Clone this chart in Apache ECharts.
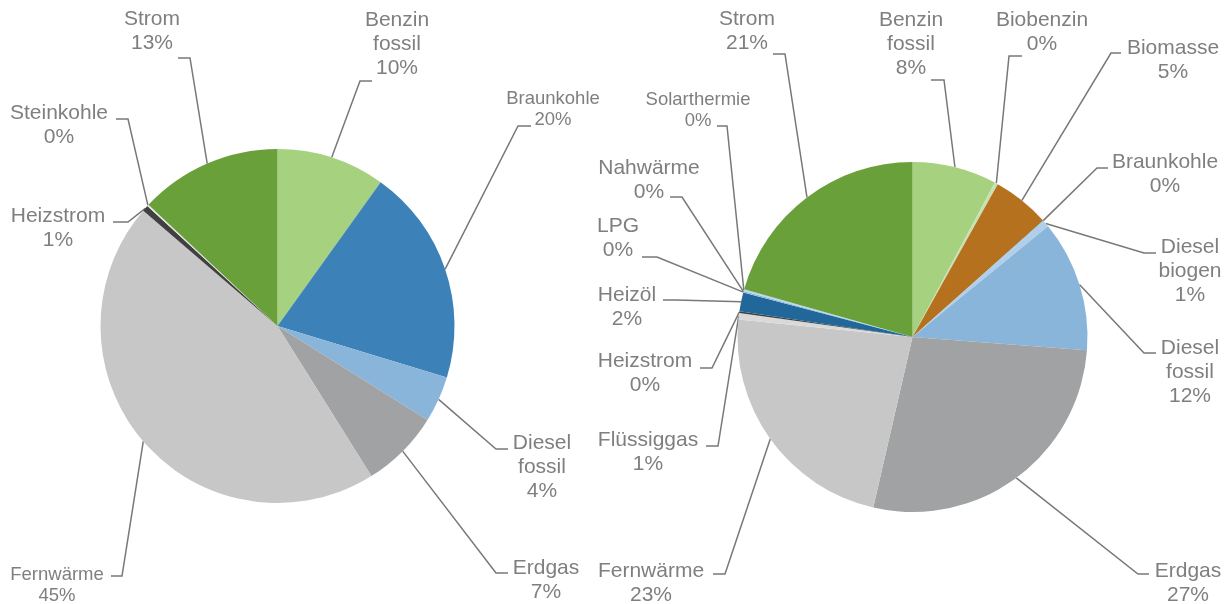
<!DOCTYPE html>
<html>
<head>
<meta charset="utf-8">
<script src="https://cdn.jsdelivr.net/npm/echarts@6/dist/echarts.min.js"></script>
<style>
  html, body { margin: 0; padding: 0; background: #fff; }
  #chart { width: 1231px; height: 604px; }
</style>
</head>
<body>
<div id="chart"></div>
<script>
// Anteile links
const leftNames = ['Benzin fossil', 'Braunkohle', 'Diesel fossil', 'Erdgas', 'Fernwärme', 'Heizstrom', 'Steinkohle', 'Strom'];
const leftValues = [9.9, 19.8, 4.2, 7.2, 45.2, 0.55, 0.15, 13.0];

// Anteile rechts
const rightNames = ['Benzin fossil', 'Biobenzin', 'Biomasse', 'Braunkohle', 'Diesel biogen', 'Diesel fossil', 'Erdgas',
  'Fernwärme', 'Flüssiggas', 'Heizstrom', 'Heizöl', 'LPG', 'Nahwärme', 'Solarthermie', 'Strom'];
const rightValues = [7.8, 0.3, 5.3, 0.05, 0.65, 12.1, 27.4, 23.0, 0.6, 0.15, 1.75, 0.05, 0.05, 0.2, 20.6];

// Farben je Energieträger
const colors = {
  'Benzin fossil': '#a6d17f', 'Biobenzin': '#c6e1b2', 'Biomasse': '#b5711e', 'Braunkohle': '#3c82b8',
  'Diesel biogen': '#b2cfe9', 'Diesel fossil': '#88b5d9', 'Erdgas': '#a1a2a4', 'Fernwärme': '#c6c7c6',
  'Flüssiggas': '#d9d9d9', 'Heizstrom': '#404040', 'Heizöl': '#22679a', 'LPG': '#9dc3e6',
  'Nahwärme': '#5b9bd5', 'Solarthermie': '#bdd7ee', 'Steinkohle': '#e4e4e4', 'Strom': '#69a03a'
};

// Beschriftungen: [x, y, Knick x, Knick y, Ende x]
const leftSpots = {
  'Benzin fossil': [397, 44, 360, 81, 372],
  'Braunkohle': [553, 109, 518, 126, 531],
  'Diesel fossil': [542, 467, 496, 449, 508],
  'Erdgas': [546, 580, 496, 573, 508],
  'Fernwärme': [57, 585, 122, 576, 111],
  'Heizstrom': [58, 228, 128, 222, 113],
  'Steinkohle': [59, 125, 128, 119, 116],
  'Strom': [152, 31, 190, 58, 178]
};
const rightSpots = {
  'Strom': [747, 31, 785, 54, 773],
  'Benzin fossil': [911, 44, 944, 80, 931],
  'Biobenzin': [1042, 32, 1009, 56, 1022],
  'Biomasse': [1173, 60, 1111, 53, 1121],
  'Braunkohle': [1165, 174, 1097, 168, 1108],
  'Diesel biogen': [1190, 271, 1144, 253, 1156],
  'Diesel fossil': [1190, 372, 1144, 353, 1156],
  'Erdgas': [1188, 583, 1138, 574, 1149],
  'Fernwärme': [651, 583, 725, 574, 713],
  'Flüssiggas': [648, 452, 718, 446, 706],
  'Heizstrom': [645, 373, 712, 368, 700],
  'Heizöl': [627, 307, 676, 300, 663],
  'LPG': [618, 238, 657, 257, 642],
  'Nahwärme': [649, 180, 682, 197, 670],
  'Solarthermie': [698, 110, 727, 126, 717]
};
const smallLabels = { left: ['Braunkohle', 'Fernwärme'], right: ['Solarthermie'] };

const FONT = "'Liberation Sans', Arial, Helvetica, sans-serif";

function buildData(names, values, small) {
  return names.map((n, i) => {
    const item = { name: n, value: values[i], itemStyle: { color: colors[n] } };
    if (small.indexOf(n) >= 0) {
      item.label = { fontSize: 18.5, lineHeight: 21 };
    }
    return item;
  });
}

// Ankerpunkt am Kreisbogen (Mitte des Segments)
function anchorOf(values, idx, center, r) {
  const total = values.reduce((a, b) => a + b, 0);
  let before = 0;
  for (let i = 0; i < idx; i++) before += values[i];
  const ang = (before + values[idx] / 2) / total * Math.PI * 2;
  return [center[0] + r * Math.sin(ang), center[1] - r * Math.cos(ang)];
}

function layoutFor(names, values, spots, center, r) {
  return function (params) {
    const s = spots[names[params.dataIndex]];
    if (!s) return {};
    const a = (params.labelLinePoints && params.labelLinePoints[0])
      ? params.labelLinePoints[0]
      : anchorOf(values, params.dataIndex, center, r);
    return {
      x: s[0], y: s[1], align: 'center', verticalAlign: 'middle',
      labelLinePoints: [[a[0], a[1]], [s[2], s[3]], [s[4], s[3]]]
    };
  };
}

function pieSeries(names, values, spots, small, center, r) {
  return {
    type: 'pie',
    center: center,
    radius: r,
    startAngle: 90,
    clockwise: true,
    avoidLabelOverlap: false,
    animation: false,
    silent: true,
    itemStyle: { borderWidth: 0 },
    label: {
      show: true,
      position: 'outside',
      color: '#7f7f7f',
      fontFamily: FONT,
      fontSize: 21,
      lineHeight: 24,
      align: 'center',
      formatter: p => p.name.replace(' ', '\n') + '\n' + Math.round(p.percent) + '%'
    },
    labelLine: {
      show: true,
      length: 10,
      length2: 10,
      smooth: false,
      lineStyle: { color: '#787878', width: 1.5 }
    },
    labelLayout: layoutFor(names, values, spots, center, r),
    data: buildData(names, values, small)
  };
}

const chart = echarts.init(document.getElementById('chart'), null, { renderer: 'canvas' });
chart.setOption({
  backgroundColor: '#ffffff',
  series: [
    pieSeries(leftNames, leftValues, leftSpots, smallLabels.left, [277.5, 326], 177),
    pieSeries(rightNames, rightValues, rightSpots, smallLabels.right, [912.5, 337], 175)
  ]
});
</script>
</body>
</html>
